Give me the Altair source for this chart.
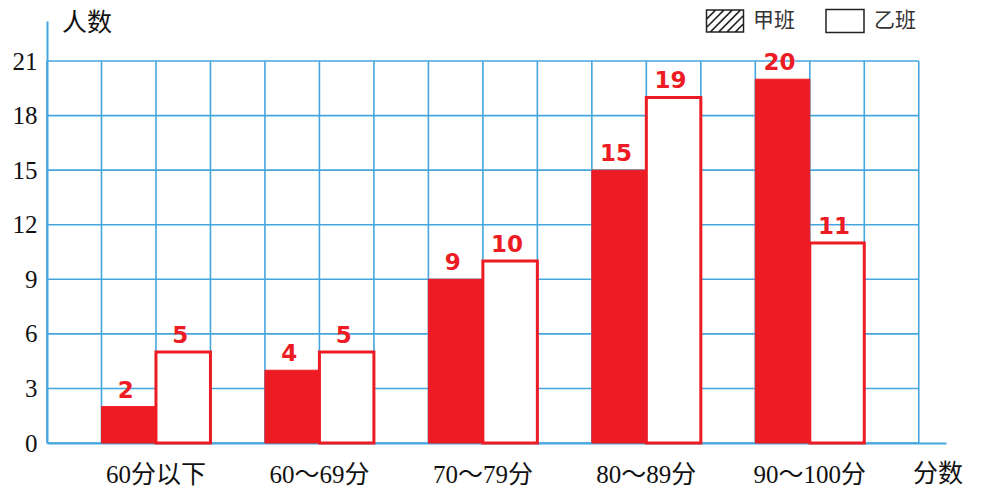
import altair as alt
import pandas as pd

# ---- data ----
categories = ["60分以下", "60～69分", "70～79分", "80～89分", "90～100分"]
class_a = [2, 4, 9, 15, 20]    # 甲班
class_b = [5, 5, 10, 19, 11]   # 乙班
series_names = ["甲班", "乙班"]
y_ticks = [0, 3, 6, 9, 12, 15, 18, 21]

RED = "#ED1C24"
BLUE = "#45A6DD"
W, H = 899, 422
N_COLS = 3 * len(categories) + 1
XMAX = 16.5
YMAX = 23.2
SERIF = "Liberation Serif, Noto Sans CJK SC"

rows = []
for i, c in enumerate(categories):
    rows.append(dict(cat=c, cls=series_names[0], value=class_a[i], x=1 + 3 * i, x2=2 + 3 * i, xc=1.5 + 3 * i))
    rows.append(dict(cat=c, cls=series_names[1], value=class_b[i], x=2 + 3 * i, x2=3 + 3 * i, xc=2.5 + 3 * i))
bars = pd.DataFrame(rows)
cat_df = pd.DataFrame({"cat": categories, "xc": [2 + 3 * i for i in range(len(categories))]})
vgrid = pd.DataFrame({"x": list(range(N_COLS + 1))})
hgrid = pd.DataFrame({"y": y_ticks})

xs = alt.Scale(domain=[0, XMAX], nice=False, zero=False)
ys = alt.Scale(domain=[0, YMAX], nice=False)

AX_X = alt.Axis(labels=False, ticks=False, grid=False, title=None,
                domainColor=BLUE, domainWidth=2)
AX_Y = alt.Axis(values=y_ticks, ticks=False, grid=False, title=None,
                domainColor=BLUE, domainWidth=2,
                labelFont="Liberation Serif", labelFontSize=25, labelColor="#111",
                labelPadding=10)

vlines = alt.Chart(vgrid).transform_calculate(
    y0="0", y1=str(y_ticks[-1])
).mark_rule(color=BLUE, strokeWidth=1.6).encode(
    x=alt.X("x:Q", scale=xs, axis=AX_X),
    y=alt.Y("y0:Q", scale=ys, axis=AX_Y),
    y2="y1:Q",
)
hlines = alt.Chart(hgrid).transform_calculate(
    x0="0", x1=str(N_COLS)
).mark_rule(color=BLUE, strokeWidth=1.6).encode(
    y=alt.Y("y:Q", scale=ys, axis=AX_Y),
    x=alt.X("x0:Q", scale=xs, axis=AX_X),
    x2="x1:Q",
)

bar_a = alt.Chart(bars).transform_filter(alt.datum.cls == series_names[0]).transform_calculate(
    base="0"
).mark_bar(color=RED, stroke=RED, strokeWidth=1).encode(
    x=alt.X("x:Q", scale=xs, axis=AX_X),
    x2="x2:Q",
    y=alt.Y("value:Q", scale=ys, axis=AX_Y),
    y2="base:Q",
)
bar_b = alt.Chart(bars).transform_filter(alt.datum.cls == series_names[1]).transform_calculate(
    base="0"
).mark_bar(fill="white", stroke=RED, strokeWidth=3).encode(
    x=alt.X("x:Q", scale=xs, axis=AX_X),
    x2="x2:Q",
    y=alt.Y("value:Q", scale=ys, axis=AX_Y),
    y2="base:Q",
)

values = alt.Chart(bars).mark_text(
    color=RED, font="DejaVu Sans", fontWeight="bold", fontSize=23,
    baseline="bottom", dy=-4, dx=-3
).encode(
    x=alt.X("xc:Q", scale=xs, axis=AX_X),
    y=alt.Y("value:Q", scale=ys, axis=AX_Y),
    text="value:Q",
)

cat_labels = alt.Chart(cat_df).mark_text(
    font=SERIF, fontSize=25, color="#111", baseline="middle"
).encode(
    x=alt.X("xc:Q", scale=xs, axis=AX_X),
    y=alt.value(H + 32),
    text="cat:N",
)

y_title = alt.Chart(pd.DataFrame({"t": ["人数"]})).mark_text(
    font=SERIF, fontSize=25, color="#111", align="left", baseline="middle"
).encode(x=alt.value(15), y=alt.value(2), text="t:N")

x_title = alt.Chart(pd.DataFrame({"t": ["分数"]})).mark_text(
    font=SERIF, fontSize=25, color="#111", align="left", baseline="middle"
).encode(x=alt.value(866), y=alt.value(H + 31), text="t:N")


def hatch_box(half_h=0.6, cs=(-1.1, -0.65, -0.2, 0.25, 0.7, 1.15)):
    p = f"M-1,-{half_h}H1V{half_h}H-1Z"
    for c in cs:
        x0 = max(-1.0, c - half_h)
        x1 = min(1.0, c + half_h)
        if x1 <= x0:
            continue
        p += f" M{x0:.3f},{c - x0:.3f}L{x1:.3f},{c - x1:.3f}"
    return p


box_plain = "M-1,-0.6H1V0.6H-1Z"
one = pd.DataFrame({"k": [0]})
leg_a = alt.Chart(one).mark_point(
    shape=hatch_box(), size=37 * 37, filled=False, stroke="#222", strokeWidth=1.5, opacity=1
).encode(x=alt.value(678), y=alt.value(0), detail="k:N")
leg_b = alt.Chart(one).mark_point(
    shape=box_plain, size=38 * 38, filled=False, stroke="#222", strokeWidth=1.5, opacity=1
).encode(x=alt.value(798), y=alt.value(0), detail="k:N")
leg_ta = alt.Chart(pd.DataFrame({"t": [series_names[0]]})).mark_text(
    font=SERIF, fontSize=21, color="#333", align="left", baseline="middle"
).encode(x=alt.value(706), y=alt.value(0), text="t:N")
leg_tb = alt.Chart(pd.DataFrame({"t": [series_names[1]]})).mark_text(
    font=SERIF, fontSize=21, color="#333", align="left", baseline="middle"
).encode(x=alt.value(827), y=alt.value(0), text="t:N")

chart = alt.layer(
    vlines, hlines, bar_a, bar_b, values, cat_labels, y_title, x_title,
    leg_a, leg_b, leg_ta, leg_tb
).properties(
    width=W, height=H,
    autosize=alt.AutoSizeParams(type="none"),
    padding={"left": 39, "top": 13, "right": 33, "bottom": 44},
    background="white",
).configure_view(stroke=None)

chart.save("out.html", embed_options={"renderer": "svg", "actions": False})
